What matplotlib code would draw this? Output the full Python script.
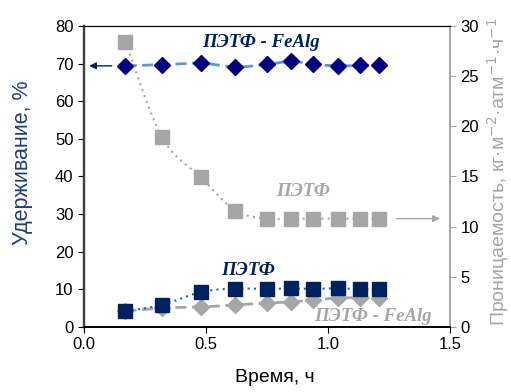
import matplotlib
matplotlib.use("Agg")
import matplotlib.pyplot as plt
import numpy as np

# time, h
time_h = [0.17, 0.32, 0.48, 0.62, 0.75, 0.85, 0.94, 1.04, 1.13, 1.21]
# retention, %
ret_fealg = [69.4, 69.7, 70.1, 69.1, 69.8, 70.6, 69.8, 69.4, 69.5, 69.5]
ret_petf = [4.2, 5.9, 9.3, 10.2, 10.1, 10.3, 10.1, 10.3, 10.0, 10.0]
# permeability, kg m-2 atm-1 h-1
perm_petf = [28.4, 18.9, 14.9, 11.6, 10.8, 10.8, 10.8, 10.8, 10.8, 10.8]
perm_fealg = [1.6, 1.9, 2.0, 2.2, 2.4, 2.5, 2.7, 2.9, 2.9, 2.9]

plt.rcParams['font.family'] = ['Liberation Sans', 'DejaVu Sans']

NAVY = '#000080'
DNAVY = '#002060'
LBLUE = '#5B9BD5'
BLUE = '#0070C0'
GRAY = '#A6A6A6'


def smooth(x, y, n=20):
    # catmull-rom through the points, like excel smoothed lines
    p = np.column_stack([x, y]).astype(float)
    p = np.vstack([p[0], p, p[-1]])
    out = []
    t = np.linspace(0, 1, n)[:, None]
    for i in range(1, len(p) - 2):
        p0, p1, p2, p3 = p[i - 1], p[i], p[i + 1], p[i + 2]
        seg = 0.5 * ((2 * p1) + (-p0 + p2) * t + (2 * p0 - 5 * p1 + 4 * p2 - p3) * t ** 2
                     + (-p0 + 3 * p1 - 3 * p2 + p3) * t ** 3)
        out.append(seg)
    out = np.vstack(out)
    return out[:, 0], out[:, 1]


fig = plt.figure(figsize=(5.11, 3.92), dpi=100)
ax = fig.add_axes([0.1644, 0.1658, 0.7162, 0.768])
ax2 = ax.twinx()

# right axis series (permeability)
sx, sy = smooth(time_h, perm_petf)
ax2.plot(sx, sy, color=GRAY, lw=1.5, ls=(0, (1, 2)))
ax2.plot(time_h, perm_petf, ls='none', marker='s', ms=9.5, color=GRAY)
sx, sy = smooth(time_h, perm_fealg)
ax2.plot(sx, sy, color=GRAY, lw=2, ls=(0, (4, 2)))
ax2.plot(time_h, perm_fealg, ls='none', marker='D', ms=8, color=GRAY)

# left axis series (retention) - drawn on top
ax.set_zorder(ax2.get_zorder() + 1)
ax.patch.set_visible(False)
sx, sy = smooth(time_h, ret_fealg)
ax.plot(sx, sy, color=LBLUE, lw=2, ls=(0, (4, 2)))
ax.plot(time_h, ret_fealg, ls='none', marker='D', ms=8, color=NAVY)
sx, sy = smooth(time_h, ret_petf)
ax.plot(sx, sy, color=BLUE, lw=1.5, ls=(0, (1, 2)))
ax.plot(time_h, ret_petf, ls='none', marker='s', ms=10, color=DNAVY)

ax.set_xlim(0, 1.5)
ax.set_ylim(0, 80)
ax2.set_ylim(0, 30)
ax.set_xticks([0, 0.5, 1.0, 1.5])
ax.set_xticklabels(['0.0', '0.5', '1.0', '1.5'])
ax.set_yticks(range(0, 81, 10))
ax2.set_yticks(range(0, 31, 5))

ax.tick_params(direction='out', labelsize=12, length=4, colors='black')
ax2.tick_params(direction='out', labelsize=12, length=4, color=GRAY, labelcolor='black')
for a in (ax, ax2):
    a.spines['top'].set_color('black')
    a.spines['bottom'].set_color('black')
    a.spines['left'].set_color('#404040')
    a.spines['right'].set_color(GRAY)
    a.spines['left'].set_linewidth(1.6)
    a.spines['bottom'].set_linewidth(1.2)
    a.spines['right'].set_linewidth(1.2)

ax.set_xlabel('Время, ч', fontsize=14)
ax.xaxis.set_label_coords(0.52, -0.14)
ax.set_ylabel('Удерживание, %', fontsize=15.5, color='#1F3D7A')
ax.yaxis.set_label_coords(-0.14, 0.545)
ax2.set_ylabel('Проницаемость, кг·м$^{-2}$·атм$^{-1}$·ч$^{-1}$', fontsize=14,
               color=GRAY)
ax2.yaxis.set_label_coords(1.097, 0.515)

# series labels
lab = dict(family=['Liberation Serif', 'DejaVu Serif'], style='italic',
           weight='bold', fontsize=13.5, ha='center', va='center')
ax.text(0.725, 75.5, 'ПЭТФ - FeAlg', color=DNAVY, **lab)
ax.text(0.898, 36.1, 'ПЭТФ', color=GRAY, **lab)
ax.text(0.672, 15.1, 'ПЭТФ', color=DNAVY, **lab)
ax.text(1.184, 2.9, 'ПЭТФ - FeAlg', color=GRAY, **lab)

# arrows pointing to the corresponding axes
ax.annotate('', xy=(0.01, ret_fealg[0]), xytext=(0.125, ret_fealg[0]),
            arrowprops=dict(arrowstyle='-|>', color=DNAVY, lw=1, mutation_scale=10))
ax2.annotate('', xy=(1.47, perm_petf[-1]), xytext=(1.27, perm_petf[-1]),
             arrowprops=dict(arrowstyle='-|>', color=GRAY, lw=1, mutation_scale=10))

fig.savefig('out.png', dpi=100)
